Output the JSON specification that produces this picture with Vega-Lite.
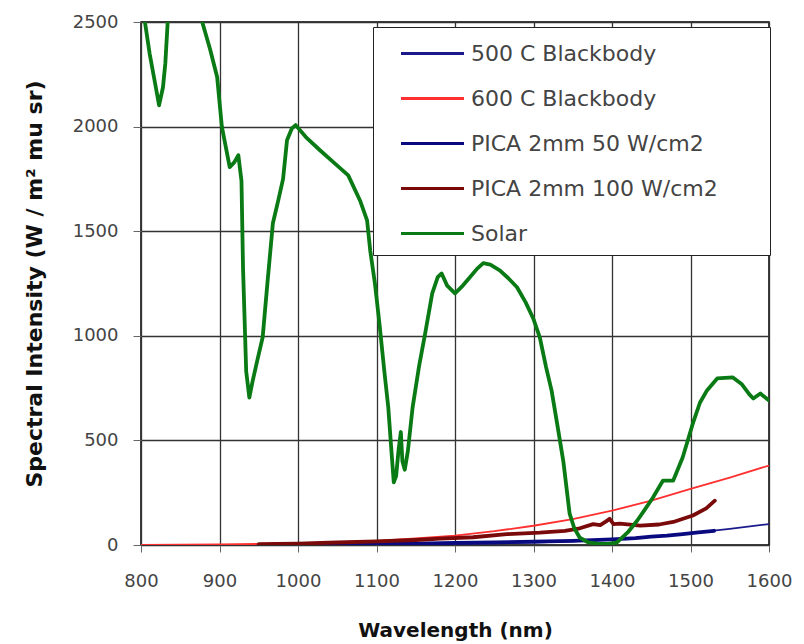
{
  "$schema": "https://vega.github.io/schema/vega-lite/v6.json",
  "width": 628,
  "height": 523,
  "autosize": {"type": "none"},
  "padding": {"left": 141, "top": 22, "right": 35, "bottom": 99},
  "background": "white",
  "config": {
    "view": {"stroke": "black", "strokeWidth": 1.5},
    "font": "DejaVu Sans"
  },
  "data": {
    "values": [
      {"series": "500 C Blackbody", "wavelength": 800, "intensity": 0},
      {"series": "500 C Blackbody", "wavelength": 900, "intensity": 0.2},
      {"series": "500 C Blackbody", "wavelength": 1000, "intensity": 0.6},
      {"series": "500 C Blackbody", "wavelength": 1100, "intensity": 1.8},
      {"series": "500 C Blackbody", "wavelength": 1150, "intensity": 3},
      {"series": "500 C Blackbody", "wavelength": 1200, "intensity": 5},
      {"series": "500 C Blackbody", "wavelength": 1250, "intensity": 8},
      {"series": "500 C Blackbody", "wavelength": 1300, "intensity": 12},
      {"series": "500 C Blackbody", "wavelength": 1350, "intensity": 18},
      {"series": "500 C Blackbody", "wavelength": 1400, "intensity": 27},
      {"series": "500 C Blackbody", "wavelength": 1450, "intensity": 40},
      {"series": "500 C Blackbody", "wavelength": 1500, "intensity": 57},
      {"series": "500 C Blackbody", "wavelength": 1550, "intensity": 77},
      {"series": "500 C Blackbody", "wavelength": 1600, "intensity": 100},

      {"series": "600 C Blackbody", "wavelength": 800, "intensity": 1},
      {"series": "600 C Blackbody", "wavelength": 850, "intensity": 2},
      {"series": "600 C Blackbody", "wavelength": 900, "intensity": 3},
      {"series": "600 C Blackbody", "wavelength": 950, "intensity": 5},
      {"series": "600 C Blackbody", "wavelength": 1000, "intensity": 9},
      {"series": "600 C Blackbody", "wavelength": 1050, "intensity": 14},
      {"series": "600 C Blackbody", "wavelength": 1100, "intensity": 20},
      {"series": "600 C Blackbody", "wavelength": 1150, "intensity": 31},
      {"series": "600 C Blackbody", "wavelength": 1200, "intensity": 45},
      {"series": "600 C Blackbody", "wavelength": 1250, "intensity": 66},
      {"series": "600 C Blackbody", "wavelength": 1300, "intensity": 92},
      {"series": "600 C Blackbody", "wavelength": 1350, "intensity": 124},
      {"series": "600 C Blackbody", "wavelength": 1400, "intensity": 164},
      {"series": "600 C Blackbody", "wavelength": 1450, "intensity": 212},
      {"series": "600 C Blackbody", "wavelength": 1500, "intensity": 268},
      {"series": "600 C Blackbody", "wavelength": 1550, "intensity": 322},
      {"series": "600 C Blackbody", "wavelength": 1600, "intensity": 380},

      {"series": "PICA 2mm 50 W/cm2", "wavelength": 1000, "intensity": 2},
      {"series": "PICA 2mm 50 W/cm2", "wavelength": 1050, "intensity": 3},
      {"series": "PICA 2mm 50 W/cm2", "wavelength": 1100, "intensity": 5},
      {"series": "PICA 2mm 50 W/cm2", "wavelength": 1150, "intensity": 7},
      {"series": "PICA 2mm 50 W/cm2", "wavelength": 1200, "intensity": 10},
      {"series": "PICA 2mm 50 W/cm2", "wavelength": 1250, "intensity": 13},
      {"series": "PICA 2mm 50 W/cm2", "wavelength": 1300, "intensity": 16},
      {"series": "PICA 2mm 50 W/cm2", "wavelength": 1350, "intensity": 20},
      {"series": "PICA 2mm 50 W/cm2", "wavelength": 1400, "intensity": 27},
      {"series": "PICA 2mm 50 W/cm2", "wavelength": 1430, "intensity": 33},
      {"series": "PICA 2mm 50 W/cm2", "wavelength": 1450, "intensity": 40},
      {"series": "PICA 2mm 50 W/cm2", "wavelength": 1470, "intensity": 45},
      {"series": "PICA 2mm 50 W/cm2", "wavelength": 1490, "intensity": 52},
      {"series": "PICA 2mm 50 W/cm2", "wavelength": 1510, "intensity": 60},
      {"series": "PICA 2mm 50 W/cm2", "wavelength": 1530, "intensity": 68},

      {"series": "PICA 2mm 100 W/cm2", "wavelength": 950, "intensity": 4},
      {"series": "PICA 2mm 100 W/cm2", "wavelength": 1000, "intensity": 7},
      {"series": "PICA 2mm 100 W/cm2", "wavelength": 1050, "intensity": 12},
      {"series": "PICA 2mm 100 W/cm2", "wavelength": 1100, "intensity": 17},
      {"series": "PICA 2mm 100 W/cm2", "wavelength": 1150, "intensity": 24},
      {"series": "PICA 2mm 100 W/cm2", "wavelength": 1181, "intensity": 30},
      {"series": "PICA 2mm 100 W/cm2", "wavelength": 1223, "intensity": 37},
      {"series": "PICA 2mm 100 W/cm2", "wavelength": 1266, "intensity": 52},
      {"series": "PICA 2mm 100 W/cm2", "wavelength": 1308, "intensity": 59},
      {"series": "PICA 2mm 100 W/cm2", "wavelength": 1340, "intensity": 68},
      {"series": "PICA 2mm 100 W/cm2", "wavelength": 1359, "intensity": 80},
      {"series": "PICA 2mm 100 W/cm2", "wavelength": 1376, "intensity": 100},
      {"series": "PICA 2mm 100 W/cm2", "wavelength": 1385, "intensity": 95},
      {"series": "PICA 2mm 100 W/cm2", "wavelength": 1392, "intensity": 112},
      {"series": "PICA 2mm 100 W/cm2", "wavelength": 1397, "intensity": 125},
      {"series": "PICA 2mm 100 W/cm2", "wavelength": 1402, "intensity": 100},
      {"series": "PICA 2mm 100 W/cm2", "wavelength": 1410, "intensity": 102},
      {"series": "PICA 2mm 100 W/cm2", "wavelength": 1436, "intensity": 93},
      {"series": "PICA 2mm 100 W/cm2", "wavelength": 1460, "intensity": 98},
      {"series": "PICA 2mm 100 W/cm2", "wavelength": 1478, "intensity": 110},
      {"series": "PICA 2mm 100 W/cm2", "wavelength": 1503, "intensity": 141},
      {"series": "PICA 2mm 100 W/cm2", "wavelength": 1520, "intensity": 175},
      {"series": "PICA 2mm 100 W/cm2", "wavelength": 1531, "intensity": 212},

      {"series": "Solar", "wavelength": 800, "intensity": 2580},
      {"series": "Solar", "wavelength": 805, "intensity": 2500},
      {"series": "Solar", "wavelength": 811, "intensity": 2349},
      {"series": "Solar", "wavelength": 818, "intensity": 2206},
      {"series": "Solar", "wavelength": 823, "intensity": 2102},
      {"series": "Solar", "wavelength": 828, "intensity": 2188},
      {"series": "Solar", "wavelength": 831, "intensity": 2303},
      {"series": "Solar", "wavelength": 834, "intensity": 2500},
      {"series": "Solar", "wavelength": 840, "intensity": 2620},
      {"series": "Solar", "wavelength": 855, "intensity": 2700},
      {"series": "Solar", "wavelength": 870, "intensity": 2620},
      {"series": "Solar", "wavelength": 878, "intensity": 2500},
      {"series": "Solar", "wavelength": 888, "intensity": 2370},
      {"series": "Solar", "wavelength": 897, "intensity": 2237},
      {"series": "Solar", "wavelength": 903, "intensity": 2000},
      {"series": "Solar", "wavelength": 913, "intensity": 1806},
      {"series": "Solar", "wavelength": 919, "intensity": 1830},
      {"series": "Solar", "wavelength": 924, "intensity": 1863},
      {"series": "Solar", "wavelength": 928, "intensity": 1740},
      {"series": "Solar", "wavelength": 930, "intensity": 1320},
      {"series": "Solar", "wavelength": 934, "intensity": 830},
      {"series": "Solar", "wavelength": 938, "intensity": 705},
      {"series": "Solar", "wavelength": 942, "intensity": 780},
      {"series": "Solar", "wavelength": 948, "intensity": 880},
      {"series": "Solar", "wavelength": 955, "intensity": 993},
      {"series": "Solar", "wavelength": 961, "intensity": 1250},
      {"series": "Solar", "wavelength": 968, "intensity": 1538},
      {"series": "Solar", "wavelength": 975, "intensity": 1650},
      {"series": "Solar", "wavelength": 981, "intensity": 1750},
      {"series": "Solar", "wavelength": 986, "intensity": 1935},
      {"series": "Solar", "wavelength": 992, "intensity": 1990},
      {"series": "Solar", "wavelength": 997, "intensity": 2007},
      {"series": "Solar", "wavelength": 1010, "intensity": 1950},
      {"series": "Solar", "wavelength": 1028, "intensity": 1887},
      {"series": "Solar", "wavelength": 1045, "intensity": 1830},
      {"series": "Solar", "wavelength": 1064, "intensity": 1767},
      {"series": "Solar", "wavelength": 1079, "intensity": 1647},
      {"series": "Solar", "wavelength": 1088, "intensity": 1552},
      {"series": "Solar", "wavelength": 1092, "intensity": 1408},
      {"series": "Solar", "wavelength": 1098, "intensity": 1250},
      {"series": "Solar", "wavelength": 1104, "intensity": 1050},
      {"series": "Solar", "wavelength": 1110, "intensity": 830},
      {"series": "Solar", "wavelength": 1115, "intensity": 658},
      {"series": "Solar", "wavelength": 1119, "intensity": 450},
      {"series": "Solar", "wavelength": 1122, "intensity": 300},
      {"series": "Solar", "wavelength": 1125, "intensity": 330},
      {"series": "Solar", "wavelength": 1128, "intensity": 450},
      {"series": "Solar", "wavelength": 1131, "intensity": 540},
      {"series": "Solar", "wavelength": 1133, "intensity": 400},
      {"series": "Solar", "wavelength": 1136, "intensity": 360},
      {"series": "Solar", "wavelength": 1140, "intensity": 450},
      {"series": "Solar", "wavelength": 1146, "intensity": 658},
      {"series": "Solar", "wavelength": 1154, "intensity": 850},
      {"series": "Solar", "wavelength": 1162, "intensity": 1012},
      {"series": "Solar", "wavelength": 1171, "intensity": 1203},
      {"series": "Solar", "wavelength": 1178, "intensity": 1280},
      {"series": "Solar", "wavelength": 1183, "intensity": 1298},
      {"series": "Solar", "wavelength": 1190, "intensity": 1240},
      {"series": "Solar", "wavelength": 1200, "intensity": 1203},
      {"series": "Solar", "wavelength": 1210, "intensity": 1240},
      {"series": "Solar", "wavelength": 1219, "intensity": 1280},
      {"series": "Solar", "wavelength": 1228, "intensity": 1320},
      {"series": "Solar", "wavelength": 1236, "intensity": 1347},
      {"series": "Solar", "wavelength": 1245, "intensity": 1340},
      {"series": "Solar", "wavelength": 1257, "intensity": 1313},
      {"series": "Solar", "wavelength": 1268, "intensity": 1275},
      {"series": "Solar", "wavelength": 1279, "intensity": 1232},
      {"series": "Solar", "wavelength": 1290, "intensity": 1160},
      {"series": "Solar", "wavelength": 1300, "intensity": 1080},
      {"series": "Solar", "wavelength": 1308, "intensity": 993},
      {"series": "Solar", "wavelength": 1316, "intensity": 850},
      {"series": "Solar", "wavelength": 1323, "intensity": 739},
      {"series": "Solar", "wavelength": 1331, "intensity": 560},
      {"series": "Solar", "wavelength": 1338, "intensity": 400},
      {"series": "Solar", "wavelength": 1346, "intensity": 150},
      {"series": "Solar", "wavelength": 1352, "intensity": 80},
      {"series": "Solar", "wavelength": 1359, "intensity": 35},
      {"series": "Solar", "wavelength": 1370, "intensity": 12},
      {"series": "Solar", "wavelength": 1381, "intensity": 6},
      {"series": "Solar", "wavelength": 1395, "intensity": 5},
      {"series": "Solar", "wavelength": 1406, "intensity": 11},
      {"series": "Solar", "wavelength": 1420, "intensity": 60},
      {"series": "Solar", "wavelength": 1432, "intensity": 116},
      {"series": "Solar", "wavelength": 1442, "intensity": 170},
      {"series": "Solar", "wavelength": 1452, "intensity": 226},
      {"series": "Solar", "wavelength": 1465, "intensity": 308},
      {"series": "Solar", "wavelength": 1478, "intensity": 308},
      {"series": "Solar", "wavelength": 1490, "intensity": 418},
      {"series": "Solar", "wavelength": 1503, "intensity": 581},
      {"series": "Solar", "wavelength": 1512, "intensity": 680},
      {"series": "Solar", "wavelength": 1521, "intensity": 739},
      {"series": "Solar", "wavelength": 1534, "intensity": 796},
      {"series": "Solar", "wavelength": 1554, "intensity": 801},
      {"series": "Solar", "wavelength": 1565, "intensity": 770},
      {"series": "Solar", "wavelength": 1575, "intensity": 720},
      {"series": "Solar", "wavelength": 1580, "intensity": 700},
      {"series": "Solar", "wavelength": 1589, "intensity": 724},
      {"series": "Solar", "wavelength": 1600, "intensity": 691}
    ]
  },
  "encoding": {
    "x": {
      "field": "wavelength",
      "type": "quantitative",
      "scale": {"domain": [800, 1600], "nice": false, "zero": false},
      "axis": {
        "values": [800, 900, 1000, 1100, 1200, 1300, 1400, 1500, 1600],
        "format": "d",
        "title": "Wavelength (nm)",
        "titleFontSize": 20,
        "titleFontWeight": "bold",
        "titleColor": "#111",
        "titlePadding": 30,
        "labelFontSize": 18,
        "labelColor": "#444",
        "labelPadding": 20,
        "labelFlush": false,
        "labelOverlap": false,
        "tickSize": 7,
        "tickColor": "#666",
        "domain": false,
        "grid": true,
        "gridColor": "#333",
        "gridWidth": 1.3,
        "gridOpacity": 1
      }
    },
    "y": {
      "field": "intensity",
      "type": "quantitative",
      "scale": {"domain": [0, 2500], "nice": false},
      "axis": {
        "values": [0, 500, 1000, 1500, 2000, 2500],
        "format": "d",
        "title": "Spectral Intensity (W / m² mu sr)",
        "titleFontSize": 22,
        "titleFontWeight": "bold",
        "titleColor": "#111",
        "titlePadding": 26,
        "labelFontSize": 18,
        "labelColor": "#444",
        "labelPadding": 15,
        "labelFlush": false,
        "labelOverlap": false,
        "tickSize": 8,
        "tickColor": "#666",
        "domain": false,
        "grid": true,
        "gridColor": "#333",
        "gridWidth": 1.3,
        "gridOpacity": 1
      }
    },
    "color": {
      "field": "series",
      "type": "nominal",
      "scale": {
        "domain": ["500 C Blackbody", "600 C Blackbody", "PICA 2mm 50 W/cm2", "PICA 2mm 100 W/cm2", "Solar"],
        "range": ["#1a1a8c", "#ff3030", "#0a0a80", "#7a0a0a", "#0a7a14"]
      },
      "legend": {
        "title": " ",
        "titleOrient": "right",
        "titlePadding": 42,
        "orient": "none",
        "legendX": 232,
        "legendY": 5,
        "fillColor": "white",
        "strokeColor": "#222",
        "padding": 10,
        "rowPadding": 17,
        "symbolType": "M-2.1,0H2.1",
        "symbolSize": 900,
        "symbolOffset": 33,
        "symbolStrokeWidth": 3,
        "labelOffset": 22,
        "labelFontSize": 22,
        "labelColor": "#444",
        "labelLimit": 400
      }
    }
  },
  "layer": [
    {
      "transform": [{"filter": "datum.series == '500 C Blackbody' || datum.series == '600 C Blackbody'"}],
      "mark": {"type": "line", "clip": true, "strokeWidth": 1.8, "strokeJoin": "round"}
    },
    {
      "transform": [{"filter": "datum.series != '500 C Blackbody' && datum.series != '600 C Blackbody'"}],
      "mark": {"type": "line", "clip": true, "strokeWidth": 3.8, "strokeJoin": "round", "strokeCap": "round"}
    }
  ]
}
